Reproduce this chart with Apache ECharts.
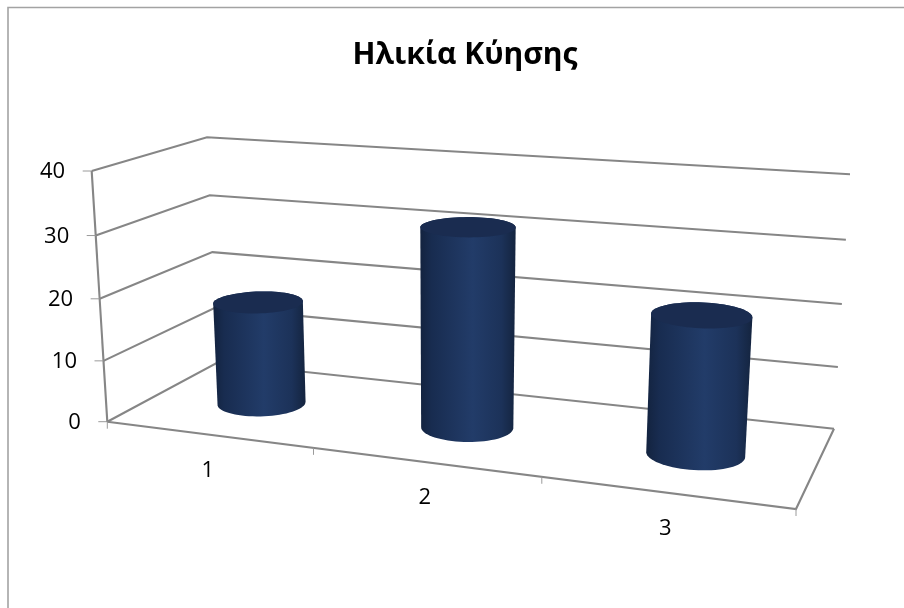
<!DOCTYPE html>
<html>
<head>
<meta charset="utf-8">
<style>html,body{margin:0;padding:0;background:#fff}#c{width:904px;height:608px}</style>
<script src="https://cdn.jsdelivr.net/npm/echarts@6/dist/echarts.min.js"></script>
</head>
<body>
<div id="c"></div>
<script>
const chartTitle = 'Ηλικία Κύησης';
const categories = ['1', '2', '3'];
const values = [17, 32, 21.5];
const yTicks = [0, 10, 20, 30, 40];

// Projection of the unit box (t along categories, d depth, h height) onto the page
const FLOOR = { fl: [107.3, 421.7], fr: [796, 509], bl: [217.5, 362.5], br: [834, 428.7] };
const ROOF = { fl: [91.7, 171], fr: [814, 226], bl: [207, 137.3], br: [850, 174.3] };
const T_WARP = 1.17, H_WARP = 1.04;
const warp = (v, w) => v / (v + w * (1 - v));
const mix = (a, b, k) => [a[0] + (b[0] - a[0]) * k, a[1] + (b[1] - a[1]) * k];
function plane(q, s, d) { return mix(mix(q.fl, q.fr, s), mix(q.bl, q.br, s), d); }
function P(t, d, h) {
  const s = warp(t, T_WARP);
  return mix(plane(FLOOR, s, d), plane(ROOF, s, d), warp(h, H_WARP));
}
const LINE = { stroke: '#868686', lineWidth: 2.1, fill: null };
const TICK = { stroke: '#9a9a9a', lineWidth: 1, fill: null };
const FONT = '"Open Sans", "Noto Sans", sans-serif';
const poly = (points, style) => ({ type: 'polyline', shape: { points }, style, silent: true });
const label = (text, x, y, align) => ({
  type: 'text', silent: true,
  style: { text, x, y, align, verticalAlign: 'middle', fill: '#000', font: '22px ' + FONT }
});

function hull(points) {
  const p = points.slice().sort((a, b) => a[0] - b[0] || a[1] - b[1]);
  const cross = (o, a, b) => (a[0] - o[0]) * (b[1] - o[1]) - (a[1] - o[1]) * (b[0] - o[0]);
  const lo = [], up = [];
  p.forEach(q => { while (lo.length > 1 && cross(lo[lo.length - 2], lo[lo.length - 1], q) <= 0) lo.pop(); lo.push(q); });
  p.slice().reverse().forEach(q => { while (up.length > 1 && cross(up[up.length - 2], up[up.length - 1], q) <= 0) up.pop(); up.push(q); });
  return lo.slice(0, -1).concat(up.slice(0, -1));
}

function heightOf(api, cs, v) { return (cs.y + cs.height - api.coord([0, v])[1]) / cs.height; }

function renderFrame(params, api) {
  const cs = params.coordSys;
  const tick = api.value(1);
  const h = heightOf(api, cs, tick);
  const children = [];
  const a = P(0, 0, h);
  children.push(poly([a, P(0, 1, h), P(1, 1, h)], LINE));
  children.push(poly([a, [a[0] - 9, a[1]]], TICK));
  children.push(label(String(tick), a[0] - 26.5, a[1] + 1, 'right'));
  if (tick === 0) {
    children.push(poly([P(0, 0, 0), P(0, 0, 1)], LINE));
    children.push(poly([P(0, 0, 0), P(1, 0, 0), P(1, 1, 0)], LINE));
    const n = categories.length;
    for (let k = 0; k <= n; k++) {
      const f = P(k / n, 0, 0);
      children.push(poly([f, [f[0], f[1] + 7]], TICK));
    }
    categories.forEach((c, i) => {
      const f = P((i + 0.5) / n, 0, 0);
      children.push(label(c, f[0], f[1] + 36, 'center'));
    });
  }
  return { type: 'group', children };
}

const R_T = 0.067, R_D = 0.2, D_C = 0.51, T_SHIFT = 0.005;
function circle(t, h) {
  const pts = [];
  for (let i = 0; i < 72; i++) {
    const a = i / 72 * Math.PI * 2;
    pts.push(P(t + T_SHIFT + R_T * Math.cos(a), D_C + R_D * Math.sin(a), h));
  }
  return pts;
}
const BODY = {
  type: 'linear', x: 0, y: 0, x2: 1, y2: 0,
  colorStops: [
    { offset: 0, color: '#13233f' }, { offset: 0.12, color: '#182c50' },
    { offset: 0.55, color: '#223c69' }, { offset: 0.85, color: '#1c3259' },
    { offset: 1, color: '#14243f' }
  ]
};
function renderCylinder(params, api) {
  const cs = params.coordSys;
  const c = api.coord([api.value(0), api.value(1)]);
  const t = (c[0] - cs.x) / cs.width;
  const h = (cs.y + cs.height - c[1]) / cs.height;
  const bottom = circle(t, 0), top = circle(t, h);
  return {
    type: 'group',
    children: [
      { type: 'polygon', silent: true, shape: { points: hull(bottom.concat(top)) }, style: { fill: BODY } },
      { type: 'polygon', silent: true, shape: { points: top }, style: { fill: '#1a2c50' } }
    ]
  };
}

const chart = echarts.init(document.getElementById('c'), null, { renderer: 'canvas' });
chart.setOption({
  animation: false,
  backgroundColor: '#fff',
  title: {
    text: chartTitle, left: 460, top: 35, textAlign: 'center',
    textStyle: { fontFamily: FONT, fontSize: 30, fontWeight: 'bold', color: '#000' }
  },
  graphic: [{
    type: 'rect', silent: true, shape: { x: 8, y: 7.5, width: 1200, height: 1200 },
    style: { fill: null, stroke: '#a3a3a3', lineWidth: 1.6 }
  }],
  grid: { left: 100, right: 100, top: 100, bottom: 100 },
  xAxis: { type: 'category', data: categories, show: false },
  yAxis: { type: 'value', min: 0, max: 40, interval: 10, show: false },
  series: [
    {
      type: 'custom', name: 'frame', z: 1, clip: false,
      renderItem: renderFrame, encode: { x: 0, y: 1 },
      data: yTicks.map(v => [0, v])
    },
    {
      type: 'custom', name: chartTitle, z: 2, clip: false,
      renderItem: renderCylinder, encode: { x: 0, y: 1 },
      data: values.map((v, i) => [i, v])
    }
  ]
});
</script>
</body>
</html>
